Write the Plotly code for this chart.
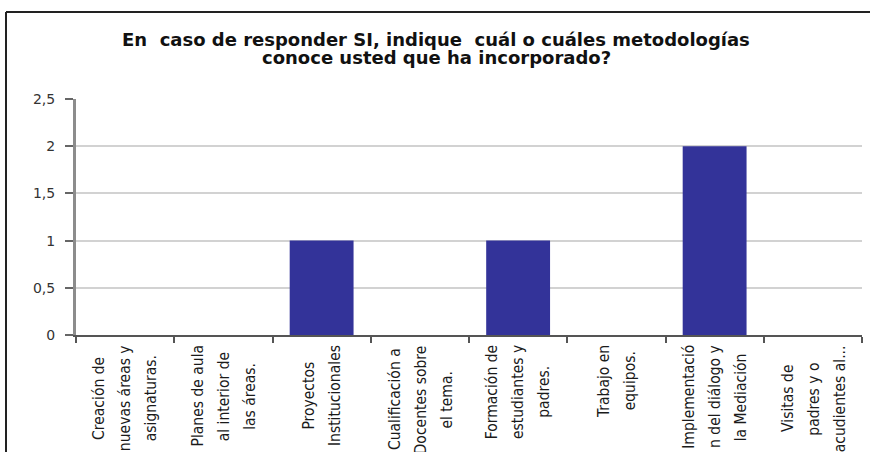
import plotly.graph_objects as go

# ---- data ----
categories = [
    "Creación de nuevas áreas y asignaturas.",
    "Planes de aula al interior de las áreas.",
    "Proyectos Institucionales",
    "Cualificación a Docentes sobre el tema.",
    "Formación de estudiantes y padres.",
    "Trabajo en equipos.",
    "Implementación del diálogo y la Mediación",
    "Visitas de padres y o acudientes al...",
]
values = [0, 0, 1, 0, 1, 0, 2, 0]
label_lines = [
    ["Creación de", "nuevas áreas y", "asignaturas."],
    ["Planes de aula", "al interior de", "las áreas."],
    ["Proyectos", "Institucionales"],
    ["Cualificación a", "Docentes sobre", "el tema."],
    ["Formación de", "estudiantes y", "padres."],
    ["Trabajo en", "equipos."],
    ["Implementació", "n del diálogo y", "la Mediación"],
    ["Visitas de", "padres y o", "acudientes al..."],
]
title_lines = [
    "En  caso de responder SI, indique  cuál o cuáles metodologías",
    "conoce usted que ha incorporado?",
]
y_ticks = [0, 0.5, 1, 1.5, 2, 2.5]

# ---- figure ----
W, H = 870, 452
ML, MR, MT, MB = 76, 8, 99, 117
PW, PH = W - ML - MR, H - MT - MB

fig = go.Figure(
    go.Bar(
        x=categories,
        y=values,
        marker=dict(color="#333399", line=dict(width=0)),
        hoverinfo="x+y",
    )
)

LBL_FONT = 15.5
LBL_FAMILY = "DejaVu Sans Condensed, DejaVu Sans, sans-serif"
natural_sp = LBL_FONT * 1.3
target_sp = 26
annotations = []
for cat, lines in zip(categories, label_lines):
    n = len(lines)
    for j in range(n):
        parts = []
        for k, ln in enumerate(lines):
            if k == j:
                parts.append(ln)
            else:
                parts.append('<span style="color:rgba(0,0,0,0)">' + ln + "</span>")
        annotations.append(
            dict(
                x=cat, xref="x", y=0, yref="paper",
                xanchor="center", yanchor="top",
                yshift=-8,
                xshift=(j - (n - 1) / 2) * (target_sp - natural_sp),
                text="<br>".join(parts),
                textangle=-90, align="center", showarrow=False,
                font=dict(family=LBL_FAMILY, size=LBL_FONT, color="#1a1a1a"),
            )
        )

title_y_px = [39, 57]
for ln, ypx in zip(title_lines, title_y_px):
    annotations.append(
        dict(
            x=(436 - ML) / PW, xref="paper", y=1, yref="paper",
            yshift=MT - ypx, xanchor="center", yanchor="middle",
            text="<b>" + ln + "</b>", showarrow=False,
            font=dict(family="DejaVu Sans, Verdana, sans-serif", size=18, color="#111111"),
        )
    )

bx = (6 - ML) / PW
by = (MT + PH - 12) / PH
bx1 = (W - ML) / PW
shapes = [
    dict(type="line", xref="paper", yref="paper", x0=bx, y0=by, x1=bx1, y1=by,
         line=dict(color="#222222", width=2)),
    dict(type="line", xref="paper", yref="paper", x0=bx, y0=by, x1=bx, y1=-0.7,
         line=dict(color="#222222", width=2)),
]

fig.update_layout(
    width=W, height=H,
    margin=dict(l=ML, r=MR, t=MT, b=MB, pad=0),
    paper_bgcolor="white", plot_bgcolor="white",
    separators=",.",
    bargap=0.35,
    showlegend=False,
    annotations=annotations,
    shapes=shapes,
    xaxis=dict(
        type="category", range=[-0.5, len(categories) - 0.5],
        showticklabels=False, ticks="outside", tickson="boundaries",
        ticklen=6, tickwidth=2, tickcolor="#555555",
        showline=True, linecolor="#555555", linewidth=2,
        showgrid=False, fixedrange=True,
    ),
    yaxis=dict(
        range=[0, 2.5], tickvals=y_ticks,
        showgrid=True, gridcolor="#d2d2d2", gridwidth=1.5,
        showline=True, linecolor="#8c8c8c", linewidth=3,
        ticks="outside", ticklen=8, tickwidth=2, tickcolor="#666666",
        tickfont=dict(family="DejaVu Sans, Verdana, sans-serif", size=14, color="#333333"),
        ticklabelstandoff=7,
        zeroline=False, fixedrange=True,
    ),
)

fig.write_html(
    "out.html",
    config={"displayModeBar": False},
    post_script="document.body.style.margin='0px';document.body.style.overflow='hidden';",
)
